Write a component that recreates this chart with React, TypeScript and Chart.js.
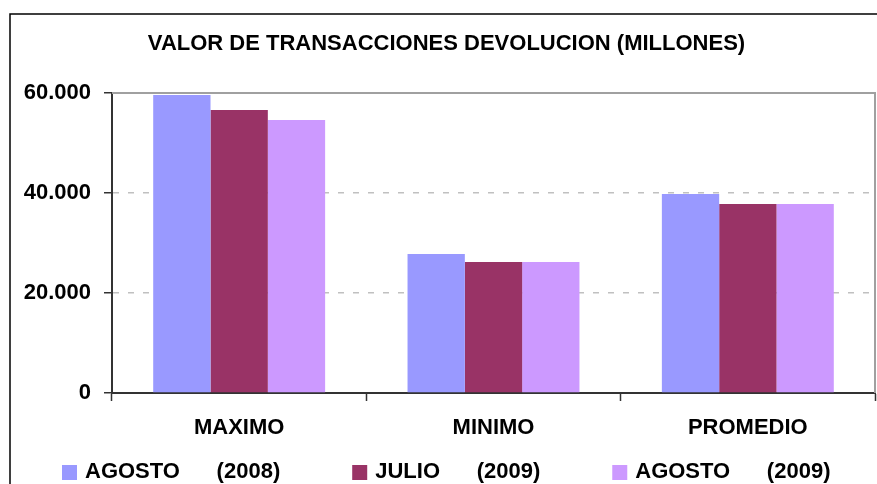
import React, { useEffect, useRef } from "react";
import { Chart, registerables } from "chart.js";

Chart.register(...registerables);

const chartTitle = "VALOR DE TRANSACCIONES DEVOLUCION (MILLONES)";
const categories = ["MAXIMO", "MINIMO", "PROMEDIO"];
const seriesLabels = ["AGOSTO      (2008)", "JULIO      (2009)", "AGOSTO      (2009)"];
const agosto2008 = [59600, 27800, 39800];
const julio2009 = [56600, 26200, 37800];
const agosto2009 = [54600, 26200, 37800];
const yTickValues = [0, 20000, 40000, 60000];
const seriesColors = ["#9999FF", "#993366", "#CC99FF"];

const FONT = "'Liberation Sans', Arial, sans-serif";

function fmt(v: number): string {
  return String(v).replace(/\B(?=(\d{3})+(?!\d))/g, ".");
}

const framePlugin = {
  id: "frame",
  beforeDraw(chart: any) {
    const ctx = chart.ctx;
    ctx.save();
    ctx.fillStyle = "#ffffff";
    ctx.fillRect(0, 0, chart.width, chart.height);
    ctx.strokeStyle = "#000000";
    ctx.lineWidth = 1.5;
    ctx.beginPath();
    ctx.moveTo(10, chart.height + 5);
    ctx.lineTo(10, 14);
    ctx.lineTo(chart.width + 5, 14);
    ctx.stroke();
    ctx.restore();
  },
  beforeDatasetsDraw(chart: any) {
    const { ctx, chartArea } = chart;
    ctx.save();
    ctx.strokeStyle = "#a0a0a0";
    ctx.lineWidth = 2;
    ctx.beginPath();
    ctx.moveTo(chartArea.left, chartArea.top);
    ctx.lineTo(chartArea.right, chartArea.top);
    ctx.lineTo(chartArea.right, chartArea.bottom);
    ctx.stroke();
    ctx.restore();
  },
};

const legendPlugin = {
  id: "customLegend",
  afterDraw(chart: any) {
    const ctx = chart.ctx;
    ctx.save();
    ctx.font = `bold 22px ${FONT}`;
    ctx.textBaseline = "middle";
    ctx.textAlign = "left";
    const cy = 472;
    let x = 62;
    chart.data.datasets.forEach((ds: any) => {
      ctx.fillStyle = ds.backgroundColor;
      ctx.fillRect(x, cy - 7, 15, 15);
      ctx.fillStyle = "#000000";
      const tx = x + 23;
      ctx.fillText(ds.label, tx, cy);
      x = tx + ctx.measureText(ds.label).width + 72;
    });
    ctx.restore();
  },
};

export default function App() {
  const canvasRef = useRef<HTMLCanvasElement | null>(null);

  useEffect(() => {
    if (!canvasRef.current) return;
    const chart = new Chart(canvasRef.current, {
      type: "bar",
      data: {
        labels: categories,
        datasets: [
          { label: seriesLabels[0], data: agosto2008, backgroundColor: seriesColors[0] },
          { label: seriesLabels[1], data: julio2009, backgroundColor: seriesColors[1] },
          { label: seriesLabels[2], data: agosto2009, backgroundColor: seriesColors[2] },
        ].map((d) => ({ ...d, categoryPercentage: 0.676, barPercentage: 1, borderWidth: 0 })),
      },
      options: {
        animation: false,
        responsive: false,
        maintainAspectRatio: false,
        layout: { padding: { left: 18, right: 2, top: 0, bottom: 43 } },
        plugins: {
          legend: { display: false },
          tooltip: { enabled: false },
          title: {
            display: true,
            text: chartTitle,
            color: "#000000",
            font: { family: FONT, size: 22, weight: "bold" },
            padding: { top: 30.5, bottom: 36.1 },
          },
        },
        scales: {
          x: {
            offset: true,
            grid: {
              offset: true,
              drawOnChartArea: false,
              drawTicks: true,
              tickLength: 8,
              tickColor: "#333333",
              tickWidth: 1.5,
            },
            border: { display: true, color: "#333333", width: 2 },
            ticks: {
              color: "#000000",
              padding: 14,
              font: { family: FONT, size: 22, weight: "bold" },
            },
            afterFit: (scale: any) => {
              scale.height = 48;
            },
          },
          y: {
            min: 0,
            max: 60000,
            afterBuildTicks: (scale: any) => {
              scale.ticks = yTickValues.map((v) => ({ value: v }));
            },
            grid: {
              color: (ctx: any) =>
                ctx.tick && (ctx.tick.value === 0 || ctx.tick.value === 60000)
                  ? "rgba(0,0,0,0)"
                  : "#c0c0c0",
              lineWidth: 1.5,
              drawTicks: true,
              tickLength: 8,
              tickColor: "#333333",
              tickWidth: 1.5,
            },
            border: { display: true, color: "#333333", width: 2, dash: [6, 9] },
            ticks: {
              color: "#000000",
              padding: 13,
              font: { family: FONT, size: 22, weight: "bold" },
              callback: (v: any) => fmt(Number(v)),
            },
            afterFit: (scale: any) => {
              scale.width = 94;
            },
          },
        },
      },
      plugins: [framePlugin, legendPlugin],
    });
    return () => chart.destroy();
  }, []);

  return (
    <div style={{ position: "fixed", left: 0, top: 0, width: 877, height: 484, overflow: "hidden" }}>
      <canvas ref={canvasRef} width={877} height={484} style={{ display: "block" }} />
    </div>
  );
}
